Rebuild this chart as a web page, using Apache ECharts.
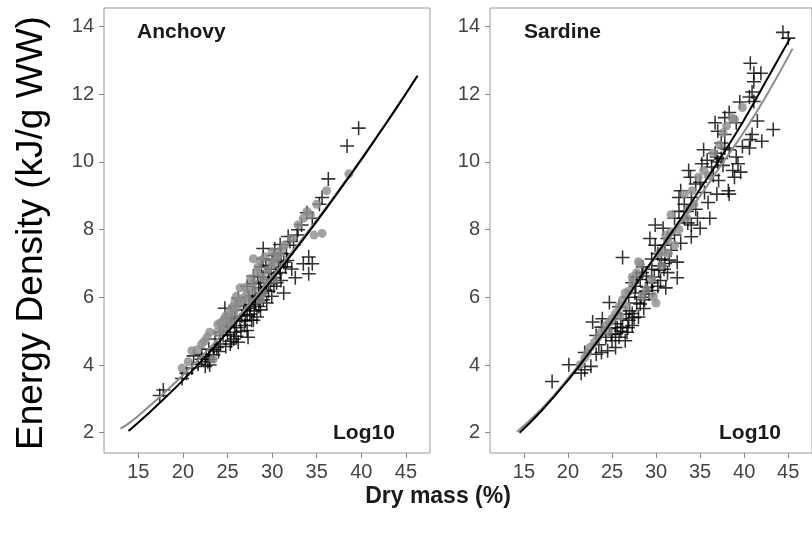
<!DOCTYPE html>
<html>
<head>
<meta charset="utf-8">
<script src="https://cdn.jsdelivr.net/npm/echarts@6/dist/echarts.min.js"></script>
<style>html,body{margin:0;padding:0;background:#fff}#c{width:812px;height:533px}</style>
</head>
<body>
<div id="c"></div>
<script>
// ---------- data ----------
const xTicks = [15, 20, 25, 30, 35, 40, 45];
const yTicks = [2, 4, 6, 8, 10, 12, 14];
const panelNames = ['Anchovy', 'Sardine'];
const panelNote = 'Log10';
const xTitle = 'Dry mass (%)';
const yTitle = 'Energy Density (kJ/g WW)';

const anchovyPlus = [
  [39.7,11.0],[38.4,10.47],[36.3,9.5],[35.6,8.95],[34.1,7.19],[33.5,6.99],[34.1,6.7],[32.6,6.58],
  [31.8,7.8],[30.9,7.56],[30.3,7.43],[29.0,7.14],[28.8,6.9],[27.9,6.63],[27.2,6.33],[31.3,6.13],
  [30.5,6.43],[29.96,6.03],[29.4,5.83],[28.7,5.63],[28.3,5.42],[27.7,5.32],[26.2,5.98],[24.7,5.68],
  [25.8,5.37],[25.3,5.12],[24.5,4.87],[25.7,4.77],[26.2,4.67],[27.2,5.02],[27.3,4.82],[24.2,4.62],
  [23.8,4.52],[23.0,4.17],[22.5,3.96],[22.1,4.17],[21.2,4.27],[21.0,3.91],[20.4,3.76],[17.4,3.1],
  [17.8,3.26],[29.0,7.44],[30.2,7.24],[31.3,7.04],[32.2,6.84],[29.6,6.53],[28.5,6.28],[28.1,6.03],
  [27.6,5.78],[26.8,5.63],[25.9,5.73],[25.5,5.42],[24.9,5.17],[24.2,4.97],[23.6,4.77],[22.9,4.47],
  [22.1,4.32],[21.7,4.02],[34.5,6.99],[35.3,8.75],[34.5,8.34],[33.3,8.14],[32.8,7.84],[32.4,7.54],
  [31.6,7.29],[30.7,7.04],[29.9,6.83],[29.6,6.73],[28.7,6.43],[26.4,5.32],[26.9,5.17],[27.9,5.32],
  [28.5,5.73],[29.0,5.93],[29.6,6.18],[30.2,6.33],[30.9,6.73],[25.3,4.62],[25.8,4.97],[27.2,5.47],
  [27.5,5.68],[28.1,5.83],[28.8,6.13],[29.4,6.33],[30.2,6.58],[30.9,6.89],[31.7,7.09],[32.0,7.65],
  [23.0,4.0],[26.0,5.1],[26.6,5.45],[27.0,5.75],[27.8,6.05],[28.4,6.6],[29.3,6.95],[30.0,7.1],
  [24.8,4.55],[25.0,4.9],[23.4,4.3],[22.6,4.25],[19.9,3.6],[33.9,8.5],[32.9,8.0],[31.0,7.3],
  [26.5,5.0],[27.0,5.3],[27.5,5.5],[28.0,5.6],[28.6,5.9],[29.2,6.2],[29.8,6.4],[30.4,6.7],
  [31.0,6.5],[31.5,6.9],[26.0,4.85],[25.4,4.7],[24.0,4.4],[23.5,4.45],[22.8,4.1],[28.0,6.4],
  [29.0,6.6],[27.4,6.0]
];
const anchovyDots = [
  [35.6,7.89],[34.7,7.84],[34.3,8.44],[33.5,8.34],[38.6,9.65],[32.2,7.74],[31.4,7.54],[30.5,7.14],
  [29.96,7.04],[30.2,6.53],[28.3,6.73],[27.9,6.43],[27.2,6.13],[26.8,5.98],[26.4,5.83],[26.0,5.68],
  [25.7,5.52],[25.3,5.32],[24.9,5.17],[24.4,5.07],[23.8,4.97],[23.0,4.97],[22.7,4.82],[22.1,4.62],
  [21.0,4.42],[19.9,3.91],[23.4,4.17],[27.9,6.23],[27.3,5.93],[29.0,6.13],[28.7,5.93],[29.4,6.43],
  [30.2,6.99],[30.7,7.24],[32.9,8.14],[33.9,8.54],[35.0,8.75],[36.1,9.15],[26.0,6.03],[26.4,6.28],
  [27.9,7.14],[28.7,7.09],[25.5,5.7],[24.6,5.35],[23.9,5.2],[28.9,6.6],[29.5,6.8],[31.0,7.4],
  [24.2,5.25],[25.1,5.55],[26.2,5.9],[27.0,6.3],[27.6,6.55],[28.4,6.9],[29.2,7.2],[30.0,7.35],
  [22.4,4.7],[21.6,4.45],[20.6,4.1],[25.8,5.85],[24.8,5.45]
];
const anchovyLineBlack = [
  [13.9,2.05],[16,2.54],[18,3.03],[20,3.55],[22,4.10],[24,4.67],[26,5.27],[28,5.89],[30,6.53],
  [32,7.20],[34,7.89],[36,8.60],[38,9.33],[40,10.07],[42,10.84],[44,11.62],[46.3,12.55]
];
const anchovyLineGrey = [
  [13.0,2.12],[14,2.29],[16,2.73],[18,3.20],[20,3.70],[22,4.23],[24,4.79],[26,5.37],[28,5.98],
  [30,6.61],[32,7.27],[34,7.94],[36,8.64],[38,9.36],[40,10.09],[42,10.85],[44,11.62],[46.3,12.55]
];

const sardinePlus = [
  [44.4,13.83],[45.0,13.66],[40.7,12.92],[41.1,12.62],[41.9,12.62],[41.1,12.37],[40.9,12.07],[40.6,11.92],
  [41.1,11.79],[39.5,11.77],[38.3,11.46],[37.8,11.31],[36.7,11.16],[37.0,10.91],[39.1,11.16],[37.8,10.81],
  [37.4,10.56],[41.5,11.21],[43.3,10.96],[40.9,10.81],[42.0,10.61],[40.7,10.66],[40.6,10.41],[35.4,10.36],
  [36.9,10.15],[37.4,10.1],[37.0,10.0],[39.1,10.15],[38.7,9.75],[39.6,9.70],[38.9,9.55],[37.1,9.45],
  [33.7,9.75],[33.9,9.55],[34.5,9.35],[35.0,9.40],[32.6,8.95],[33.2,8.75],[34.0,8.95],[36.9,9.05],
  [38.3,9.05],[35.9,8.80],[32.1,8.34],[33.2,8.34],[34.0,8.14],[35.0,8.04],[34.0,7.79],[29.9,8.14],
  [30.8,8.04],[29.3,7.74],[29.9,7.54],[30.2,7.29],[31.7,7.39],[32.4,7.04],[32.4,6.58],[31.3,6.73],
  [30.9,6.83],[30.4,6.93],[29.5,6.83],[28.4,6.73],[29.5,6.43],[30.2,6.33],[31.1,6.28],[28.8,6.18],
  [27.7,6.33],[27.3,6.43],[28.7,5.93],[28.6,5.67],[27.8,5.83],[27.3,5.52],[26.9,5.32],[26.2,7.18],
  [24.7,5.85],[23.8,5.12],[23.2,4.87],[24.3,4.82],[25.0,4.72],[25.8,4.82],[26.2,5.12],[26.7,4.97],
  [27.3,5.17],[26.5,4.72],[25.4,4.52],[24.5,4.42],[23.8,4.37],[23.2,4.32],[21.9,4.37],[22.6,3.96],
  [21.9,3.86],[21.5,3.76],[20.1,4.01],[18.2,3.51],[25.8,5.72],[27.6,6.13],[28.2,6.53],[28.9,6.63],
  [28.0,5.42],[26.0,5.37],[25.4,5.22],[25.4,4.92],[24.7,5.07],[23.9,5.37],[22.8,5.27],[29.5,7.13],
  [30.6,7.13],[31.0,7.54],[31.3,7.74],[32.1,7.84],[32.6,8.54],[32.8,9.15],[33.5,8.54],[35.2,9.95],
  [35.8,10.05],[36.3,9.85],[36.7,10.26],[37.8,10.41],[38.3,10.36],[39.8,10.46],[39.3,9.95],[38.2,9.15],
  [36.1,8.34],[34.7,8.34],[27.0,5.6],[28.3,6.0],[29.2,6.1],[29.8,6.6],[30.5,6.5],[26.6,5.5],
  [26.0,5.0],[26.8,5.1],[27.5,5.4],[28.2,5.8],[29.0,6.3],[29.6,6.2],[30.3,6.8],[31.0,7.0],
  [28.5,6.9],[27.8,6.6],[26.9,6.0],[25.6,5.1],[24.9,4.9],[23.5,4.6],[31.5,7.1],[32.8,7.6],
  [33.6,8.2],[34.5,8.6],[35.5,9.1],[36.5,9.6],[37.6,9.9]
];
const sardineDots = [
  [39.8,11.61],[38.9,11.26],[38.0,11.06],[37.6,10.86],[35.4,9.75],[34.8,9.55],[34.3,8.75],[33.5,8.34],
  [31.7,7.94],[31.3,7.69],[30.9,7.34],[30.6,6.93],[28.2,6.98],[27.8,6.73],[27.3,6.43],[26.9,6.18],
  [26.5,6.13],[26.2,5.93],[25.8,5.72],[25.4,5.52],[25.0,5.37],[24.7,5.27],[24.3,5.17],[23.8,4.97],
  [23.4,4.82],[23.0,4.67],[22.5,4.52],[21.9,4.21],[21.4,4.01],[28.9,6.23],[29.7,6.03],[30.0,5.83],
  [28.4,6.03],[29.5,6.53],[33.2,9.05],[36.5,10.26],[34.1,9.15],[31.7,8.44],[31.1,7.84],[32.1,7.54],
  [27.3,6.6],[28.0,7.05],[26.6,5.75],[25.9,5.45],[24.6,5.0],[30.3,7.3],[31.4,7.3],[32.6,8.0],
  [33.6,8.6],[35.9,9.6],[37.2,10.5],[38.6,11.3],[22.2,4.35]
];
const sardineLineBlack = [
  [14.5,2.0],[17,2.65],[20,3.55],[22.5,4.4],[25,5.3],[27.5,6.3],[30,7.25],[32.5,8.2],[35,9.2],
  [37.5,10.2],[40,11.25],[42.5,12.4],[45.2,13.65]
];
const sardineLineGrey = [
  [14.2,2.03],[17,2.7],[20,3.6],[22.5,4.45],[25,5.35],[27.5,6.3],[30,7.2],[32.5,8.1],[35,9.0],
  [37.5,9.95],[40,10.9],[42.5,11.95],[45.5,13.35]
];

// ---------- chart ----------
const FONT = '"Liberation Sans", Arial, sans-serif';
const plusPath = 'path://M4.45,0H5.55V4.45H10V5.55H5.55V10H4.45V5.55H0V4.45H4.45Z';
const grids = [
  {left: 104, top: 8, width: 326, height: 445},
  {left: 490, top: 8, width: 326, height: 445}
];
function xAx(i){
  return {gridIndex:i, type:'value', min:11.15, max:47.7,
    splitLine:{show:false}, axisLine:{show:false},
    axisTick:{show:true, length:5, lineStyle:{color:'#888'}, customValues:xTicks},
    axisLabel:{color:'#444', fontSize:20, fontFamily:FONT, margin:9, customValues:xTicks}};
}
function yAx(i){
  return {gridIndex:i, type:'value', min:1.4, max:14.55,
    splitLine:{show:false}, axisLine:{show:false},
    axisTick:{show:true, length:5, lineStyle:{color:'#888'}, customValues:yTicks},
    axisLabel:{color:'#444', fontSize:20, fontFamily:FONT, margin:10, customValues:yTicks}};
}
function panelSeries(i, plus, dots, lb, lg){
  return [
    {type:'scatter', xAxisIndex:i, yAxisIndex:i, data:plus, symbol:plusPath, symbolSize:14,
      itemStyle:{color:'#000'}, z:2, silent:true},
    {type:'scatter', xAxisIndex:i, yAxisIndex:i, data:dots, symbol:'circle', symbolSize:9,
      itemStyle:{color:'#8c8c8c'}, z:3, silent:true},
    {type:'line', xAxisIndex:i, yAxisIndex:i, data:lg, showSymbol:false, smooth:true,
      lineStyle:{color:'#8c8c8c', width:2}, z:4, silent:true},
    {type:'line', xAxisIndex:i, yAxisIndex:i, data:lb, showSymbol:false, smooth:true,
      lineStyle:{color:'#000', width:2}, z:5, silent:true}
  ];
}
const chart = echarts.init(document.getElementById('c'), null, {renderer:'canvas'});
chart.setOption({
  animation:false,
  backgroundColor:'#fff',
  grid: grids.map(g => Object.assign({show:true, borderColor:'#999', borderWidth:1, backgroundColor:'#fff'}, g)),
  xAxis:[xAx(0), xAx(1)],
  yAxis:[yAx(0), yAx(1)],
  series:[].concat(
    panelSeries(0, anchovyPlus, anchovyDots, anchovyLineBlack, anchovyLineGrey),
    panelSeries(1, sardinePlus, sardineDots, sardineLineBlack, sardineLineGrey)
  ),
  graphic:[
    {type:'text', left:137, top:22, style:{text:panelNames[0], font:'bold 21px '+FONT, fill:'#1a1a1a'}},
    {type:'text', left:524, top:22, style:{text:panelNames[1], font:'bold 21px '+FONT, fill:'#1a1a1a'}},
    {type:'text', left:333, top:423, style:{text:panelNote, font:'bold 21px '+FONT, fill:'#1a1a1a'}},
    {type:'text', left:719, top:423, style:{text:panelNote, font:'bold 21px '+FONT, fill:'#1a1a1a'}},
    {type:'text', x:438, y:497, style:{text:xTitle, font:'bold 23px '+FONT, fill:'#1a1a1a', align:'center', verticalAlign:'middle'}},
    {type:'text', x:32, y:233, rotation:Math.PI/2, style:{text:yTitle, font:'37px '+FONT, fill:'#000', align:'center', verticalAlign:'middle'}}
  ]
});
</script>
</body>
</html>
